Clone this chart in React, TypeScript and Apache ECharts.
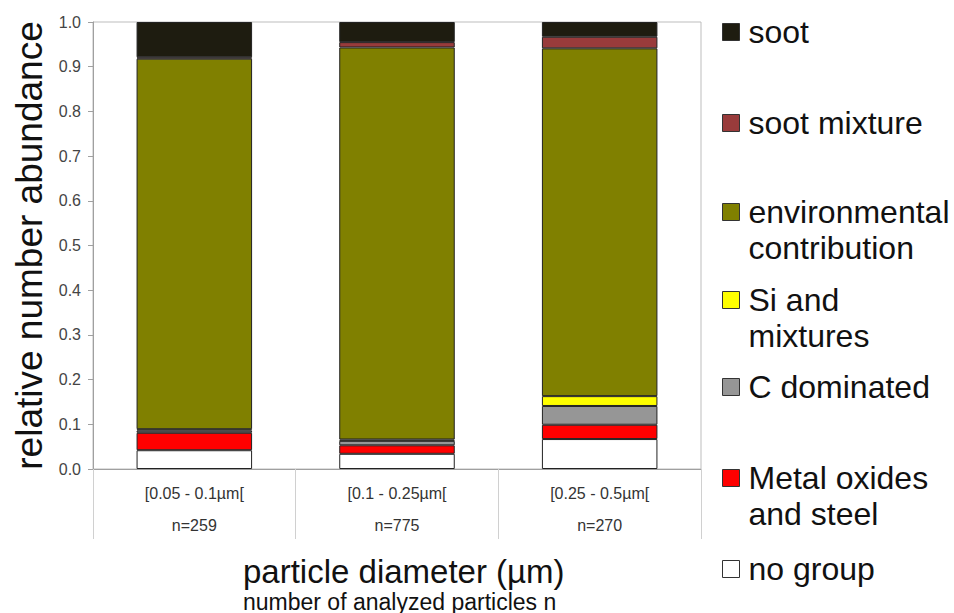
import React, { useEffect, useRef } from "react";
import * as echarts from "echarts";

const categories = ["[0.05 - 0.1µm[", "[0.1 - 0.25µm[", "[0.25 - 0.5µm["];
const counts = ["n=259", "n=775", "n=270"];
const yTicks = [0, 1, 0.1];

const noGroup = [0.042, 0.034, 0.067];
const metalOxides = [0.039, 0.019, 0.032];
const cDominated = [0.005, 0.01, 0.042];
const siMixtures = [0.003, 0.003, 0.022];
const environmental = [0.829, 0.877, 0.778];
const sootMixture = [0.003, 0.012, 0.026];
const soot = [0.079, 0.045, 0.033];

const seriesDefs = [
  { name: "no group", label: "no group", data: noGroup, color: "#ffffff", icon: 569, lines: 1 },
  { name: "Metal oxides and steel", label: "\nMetal oxides\nand steel", data: metalOxides, color: "#ff0000", icon: 478, lines: 3 },
  { name: "C dominated", label: "C dominated", data: cDominated, color: "#969696", icon: 387, lines: 1 },
  { name: "Si and mixtures", label: "\nSi and\nmixtures", data: siMixtures, color: "#ffff00", icon: 300, lines: 3 },
  { name: "environmental contribution", label: "\nenvironmental\ncontribution", data: environmental, color: "#808000", icon: 212, lines: 3 },
  { name: "soot mixture", label: "soot mixture", data: sootMixture, color: "#993b3b", icon: 123, lines: 1 },
  { name: "soot", label: "soot", data: soot, color: "#1e1c10", icon: 32, lines: 1 },
];

const FONT = "Liberation Sans, Arial, sans-serif";

export default function App() {
  const ref = useRef<HTMLDivElement>(null);
  useEffect(() => {
    if (!ref.current) return;
    const chart = echarts.init(ref.current, null, { renderer: "svg" });
    const LH = 36;
    const legends = seriesDefs.map((s) => ({
      data: [{ name: s.name, icon: "rect" }],
      left: 722,
      top: s.icon - (LH * s.lines) / 2,
      padding: 0,
      itemWidth: 17,
      itemHeight: 17,
      selectedMode: false,
      itemStyle: { borderColor: "#333", borderWidth: 1 },
      formatter: () => s.label,
      textStyle: {
        fontFamily: FONT,
        fontSize: 32,
        lineHeight: LH,
        color: "#111",
        padding: [0, 0, 0, 4],
      },
    }));
    chart.setOption({
      animation: false,
      textStyle: { fontFamily: FONT },
      grid: {
        left: 93,
        right: 253,
        top: 22,
        bottom: 144,
        show: true,
        borderColor: "#bdbdbd",
        borderWidth: 1,
        containLabel: false,
      },
      legend: legends,
      xAxis: {
        type: "category",
        data: categories,
        axisLine: { lineStyle: { color: "#a0a0a0", width: 1 } },
        axisTick: { show: true, length: 70, lineStyle: { color: "#d0d0d0" } },
        axisLabel: {
          fontSize: 16,
          color: "#333",
          lineHeight: 32,
          margin: 8,
          formatter: (v: string, i: number) => v + "\n" + counts[i],
        },
      },
      yAxis: {
        type: "value",
        min: yTicks[0],
        max: yTicks[1],
        interval: yTicks[2],
        name: "relative number abundance",
        nameLocation: "middle",
        nameGap: 33,
        nameTextStyle: { fontSize: 37, color: "#111", fontFamily: FONT },
        axisLine: { show: true, lineStyle: { color: "#a0a0a0" } },
        axisTick: { show: true, length: 5, lineStyle: { color: "#a0a0a0" } },
        splitLine: { show: false },
        axisLabel: {
          fontSize: 16,
          color: "#444",
          margin: 12,
          formatter: (v: number) => v.toFixed(1),
        },
      },
      graphic: [
        {
          type: "text",
          left: 243,
          top: 555,
          style: { text: "particle diameter (µm)", fontSize: 33, fill: "#111", fontFamily: FONT },
        },
        {
          type: "text",
          left: 243,
          top: 590,
          style: { text: "number of analyzed particles n", fontSize: 23, fill: "#111", fontFamily: FONT },
        },
      ],
      series: seriesDefs.map((s) => ({
        name: s.name,
        type: "bar",
        stack: "total",
        barWidth: "57%",
        data: s.data,
        itemStyle: { color: s.color, borderColor: "#222", borderWidth: 1 },
      })),
    });
    return () => chart.dispose();
  }, []);
  return <div ref={ref} style={{ width: 954, height: 613, position: "absolute", left: 0, top: 0 }} />;
}
